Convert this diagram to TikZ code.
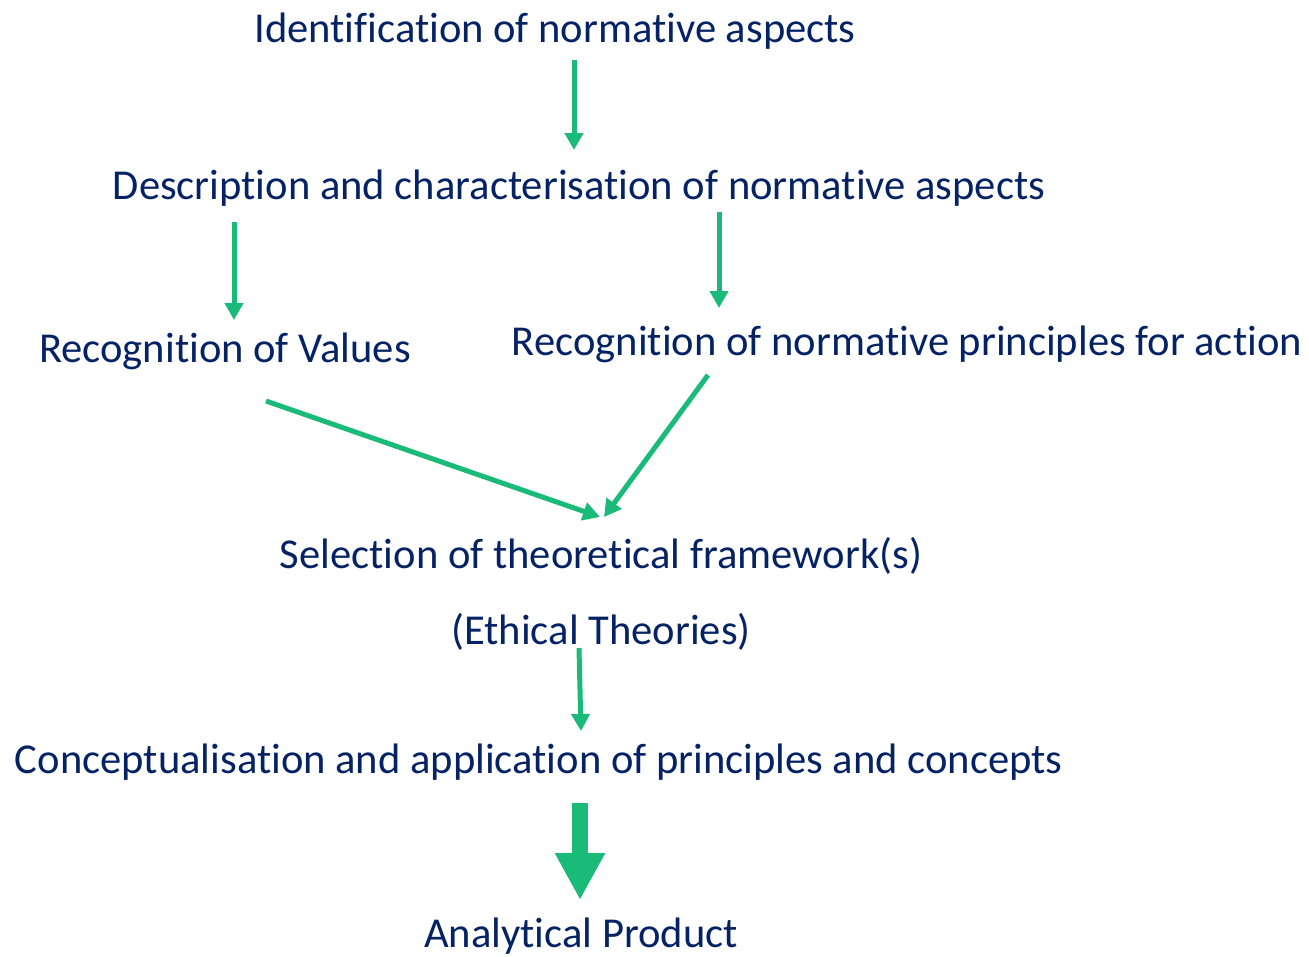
\documentclass[tikz,border=0pt]{standalone}
\usepackage{fontspec}
\setmainfont{Carlito}[RawFeature={-liga;-clig;-calt;-dlig}]
\usetikzlibrary{arrows.meta}
\definecolor{navy}{RGB}{4,34,100}
\definecolor{leaf}{RGB}{26,186,120}
\tikzset{
  lbl/.style={anchor=base, inner sep=0pt, text=navy, font=\fontsize{42.6}{50}\selectfont},
  arr/.style={draw=leaf, line width=5pt, -{Triangle[width=18pt,length=17pt]}},
  bigarr/.style={draw=leaf, line width=16pt, -{Triangle[width=47pt,length=47pt]}}
}
\begin{document}
\begin{tikzpicture}[x=1pt,y=-1pt]
\useasboundingbox (0,0) rectangle (1309,956);
\node[lbl] (t1) at (555,42) {Identification of normative aspects};
\node[lbl] (t2) at (579,199) {Description and characterisation of normative aspects};
\node[lbl] (t3) at (225,362) {Recognition of Values};
\node[lbl] (t4) at (907,355) {Recognition of normative principles for action};
\node[lbl] (t5) at (601,568) {Selection of theoretical framework(s)};
\node[lbl] (t6) at (601,644) {(Ethical Theories)};
\node[lbl] (t7) at (539,773) {Conceptualisation and application of principles and concepts};
\node[lbl] (t8) at (581,947) {Analytical Product};

\draw[arr] ([xshift=19pt,yshift=-18pt]t1.base) -- ([xshift=-5pt,yshift=49pt]t2.base);
\draw[arr] ([xshift=-345pt,yshift=-23pt]t2.base) -- ([xshift=9pt,yshift=42pt]t3.base);
\draw[arr] ([xshift=140pt,yshift=-13pt]t2.base) -- ([xshift=-188pt,yshift=47pt]t4.base);
\draw[arr] ([xshift=41pt,yshift=-39pt]t3.base) -- ([xshift=-1pt,yshift=51pt]t5.base);
\draw[arr] ([xshift=-199pt,yshift=-20pt]t4.base) -- ([xshift=3pt,yshift=51pt]t5.base);
\draw[arr] ([xshift=-22pt,yshift=-4pt]t6.base) -- ([xshift=42pt,yshift=42pt]t7.base);
\draw[bigarr] ([xshift=41pt,yshift=-30pt]t7.base) -- ([xshift=-1pt,yshift=47pt]t8.base);
\end{tikzpicture}
\end{document}
